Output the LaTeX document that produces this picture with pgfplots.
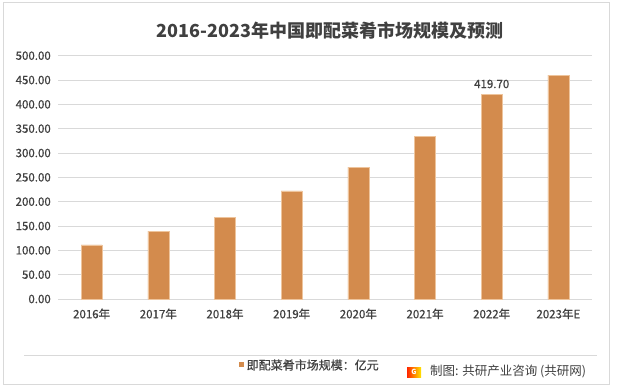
\documentclass[border=0pt]{standalone}
\usepackage{fontspec}
\setmainfont{Noto Sans CJK SC}
\newfontfamily\semib[FakeBold=0.6]{Noto Sans CJK SC}
\usepackage{pgfplots}
\pgfplotsset{compat=1.18}
\definecolor{barc}{RGB}{211,139,77}
\definecolor{baredge}{RGB}{238,196,156}
\definecolor{txt}{RGB}{64,64,64}
\definecolor{gridc}{RGB}{217,217,217}
\definecolor{framec}{RGB}{217,217,217}
\begin{document}
\begin{tikzpicture}[x=1pt,y=1pt]
\fill[white] (0,0) rectangle (617,389);
\draw[framec, line width=0.8pt] (3,5) rectangle (609,387);
\begin{axis}[
  at={(58.3pt,90pt)}, anchor=south west,
  scale only axis, width=533.4pt, height=243.3pt,
  xmin=-0.5, xmax=7.5, ymin=0, ymax=500,
  axis line style={draw=none},
  ytick={0,50,...,500},
  xtick={0,...,7},
  xticklabels={2016年,2017年,2018年,2019年,2020年,2021年,2022年,2023年E},
  major tick length=0pt,
  ymajorgrids, grid style={gridc, line width=0.8pt},
  /pgf/number format/assume math mode=true,
  ticklabel style={font=\semib\fontsize{11.5}{13}\selectfont, text=txt},
  yticklabel style={/pgf/number format/fixed, /pgf/number format/fixed zerofill, /pgf/number format/precision=2, xshift=-4pt},
  xticklabel style={yshift=-6pt},
  clip=false,
]
\addplot[ybar, bar width=21pt, fill=barc, draw=baredge, line width=0.6pt] coordinates {
 (0,111) (1,139.7) (2,168.5) (3,222) (4,271) (5,334) (6,419.7) (7,460)
};
\addplot[draw=none, mark=none, nodes near coords={419.70},
  every node near coord/.style={font=\semib\fontsize{11.5}{13}\selectfont, text=txt, anchor=south, yshift=3pt}]
  coordinates {(6,419.7)};
\end{axis}
\node[font=\fontsize{18}{20}\selectfont\bfseries, text=txt] at (330,358) {2016-2023年中国即配菜肴市场规模及预测};
\draw[gridc, line width=0.8pt] (24,34) -- (597,34);
\fill[barc] (239,22) rectangle (244,27);
\node[anchor=west, font=\semib\fontsize{12}{14}\selectfont, text=txt, inner sep=0pt] at (246.5,24) {即配菜肴市场规模：亿元};
\shade[left color=red!70!orange, right color=yellow!80!orange] (407,12) rectangle (421,22);
\node[font=\fontsize{7}{8}\selectfont\bfseries, text=white] at (414,17) {G};
\node[anchor=west, font=\fontsize{12.5}{14}\selectfont, text=txt, inner sep=0pt] at (430,18) {制图: 共研产业咨询 (共研网)};
\end{tikzpicture}
\end{document}
